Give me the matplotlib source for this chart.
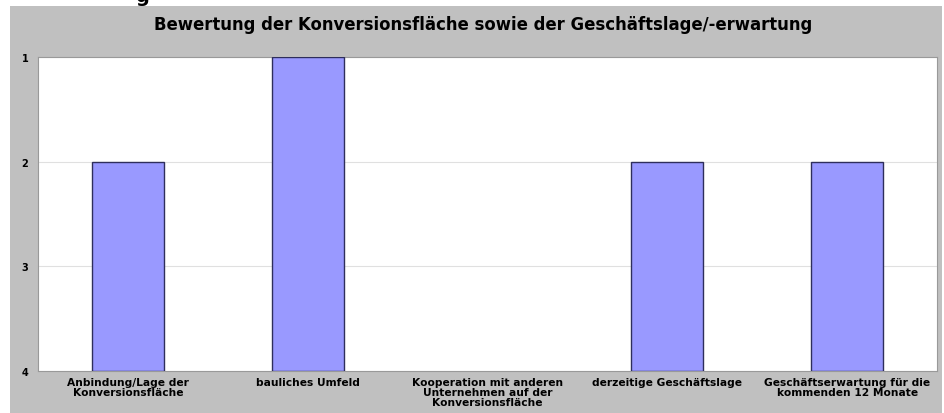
import matplotlib
matplotlib.use("Agg")
import matplotlib.pyplot as plt
from matplotlib.patches import Rectangle
import numpy as np

categories = ["Anbindung/Lage der\nKonversionsfläche", "bauliches Umfeld",
              "Kooperation mit anderen\nUnternehmen auf der\nKonversionsfläche",
              "derzeitige Geschäftslage",
              "Geschäftserwartung für die\nkommenden 12 Monate"]
values = [2, 1, np.nan, 2, 2]
yticks = [1, 2, 3, 4]
title = "Bewertung der Konversionsfläche sowie der Geschäftslage/-erwartung"

W, H = 945, 414
fig = plt.figure(figsize=(W / 100, H / 100), dpi=100)
fig.patch.set_facecolor("white")

# gray chart panel
fig.add_artist(Rectangle((10 / W, 0), 932 / W, 1 - 7 / H, transform=fig.transFigure,
                         facecolor="#C0C0C0", edgecolor="none", zorder=0))
# cropped heading fragment at top
fig.text(135 / W, 1 + 3 / H, "g", fontsize=14, fontweight="bold", ha="left", va="center",
         family="DejaVu Sans")

left, right, top, bottom = 38, 937, 58, 372
ax = fig.add_axes([left / W, 1 - bottom / H, (right - left) / W, (bottom - top) / H])
ax.set_facecolor("white")

x = np.arange(len(categories))
heights = [v - 4 for v in values]
ax.bar(x, heights, bottom=4, width=0.4, color="#9999FF", edgecolor="#2E2E5C", linewidth=1.0, zorder=3)

ax.set_xlim(-0.5, len(categories) - 0.5)
ax.set_ylim(4, 1)
ax.set_yticks(yticks)
ax.set_yticklabels([str(t) for t in yticks], fontsize=7, fontweight="bold", family="DejaVu Sans")
ax.set_xticks(x)
ax.set_xticklabels(categories, fontsize=7.7, fontweight="bold", family="DejaVu Sans", linespacing=1.0)
ax.tick_params(axis="x", length=0, pad=4)
ax.tick_params(axis="y", length=0, pad=7)
ax.yaxis.grid(True, color="#E0E0E0", linewidth=0.8, zorder=0)
for s in ax.spines.values():
    s.set_color("#999999")
    s.set_linewidth(0.8)

fig.text(483 / W, 1 - 25 / H, title, fontsize=11.9, fontweight="bold", ha="center", va="center",
         family="DejaVu Sans")

fig.savefig("out.png", dpi=100)
